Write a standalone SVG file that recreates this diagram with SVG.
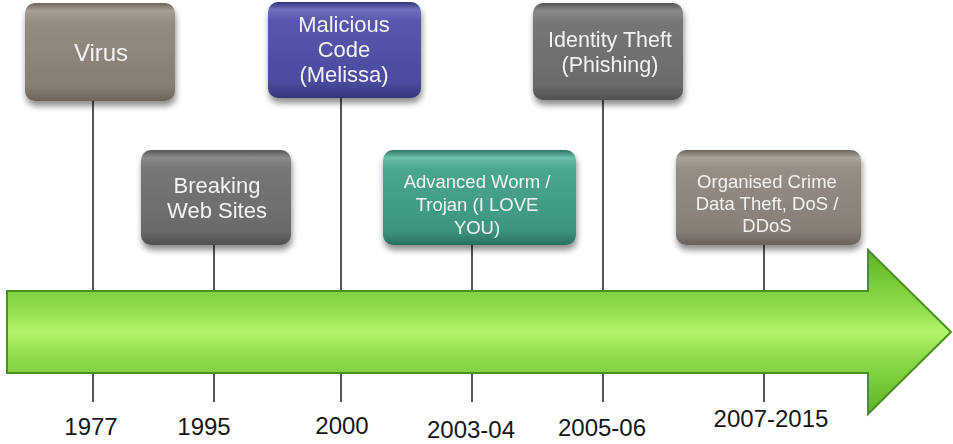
<svg xmlns="http://www.w3.org/2000/svg" width="953" height="444" viewBox="0 0 953 444">
<defs>
<style>
.lbl{font-family:"Liberation Sans",Arial,sans-serif;fill:#f2f2f2;text-anchor:middle}
.yr{font-family:"Liberation Sans",Arial,sans-serif;fill:#161616;font-size:24px;text-anchor:middle}
.ln{stroke:#555;stroke-width:2;fill:none}
.box{filter:url(#sh)}
</style>
<filter id="sh" x="-10%" y="-10%" width="125%" height="135%">
<feGaussianBlur in="SourceAlpha" stdDeviation="3"/>
<feOffset dx="1" dy="5" result="b"/>
<feComponentTransfer><feFuncA type="linear" slope="0.45"/></feComponentTransfer>
<feMerge><feMergeNode/><feMergeNode in="SourceGraphic"/></feMerge>
</filter>
<linearGradient id="gBrown" x1="0" y1="0" x2="0" y2="1">
<stop offset="0" stop-color="#6f675e"/><stop offset="0.08" stop-color="#a79f95"/><stop offset="0.2" stop-color="#958c81"/><stop offset="0.85" stop-color="#877e73"/><stop offset="1" stop-color="#6c645b"/>
</linearGradient>
<linearGradient id="gGray" x1="0" y1="0" x2="0" y2="1">
<stop offset="0" stop-color="#555"/><stop offset="0.08" stop-color="#8a8a8a"/><stop offset="0.2" stop-color="#767676"/><stop offset="0.85" stop-color="#6a6a6a"/><stop offset="1" stop-color="#505050"/>
</linearGradient>
<linearGradient id="gBlue" x1="0" y1="0" x2="0" y2="1">
<stop offset="0" stop-color="#33337a"/><stop offset="0.08" stop-color="#6f6fc0"/><stop offset="0.2" stop-color="#5757ad"/><stop offset="0.85" stop-color="#4a4a9e"/><stop offset="1" stop-color="#333378"/>
</linearGradient>
<linearGradient id="gTeal" x1="0" y1="0" x2="0" y2="1">
<stop offset="0" stop-color="#2a7463"/><stop offset="0.08" stop-color="#6cc0aa"/><stop offset="0.2" stop-color="#4aa68f"/><stop offset="0.85" stop-color="#3c9580"/><stop offset="1" stop-color="#2a6f5f"/>
</linearGradient>
<linearGradient id="gTaupe" x1="0" y1="0" x2="0" y2="1">
<stop offset="0" stop-color="#6e655d"/><stop offset="0.08" stop-color="#aaa198"/><stop offset="0.2" stop-color="#968d84"/><stop offset="0.85" stop-color="#877e76"/><stop offset="1" stop-color="#6b635b"/>
</linearGradient>
<linearGradient id="gArrow" x1="0" y1="0" x2="0" y2="1">
<stop offset="0" stop-color="#5cb51e"/><stop offset="0.35" stop-color="#8fdc4a"/><stop offset="0.5" stop-color="#b2f56c"/><stop offset="0.65" stop-color="#8fdc4a"/><stop offset="1" stop-color="#5cb51e"/>
</linearGradient>
</defs>

<g id="connectors">
<line class="ln" x1="93" y1="100" x2="93" y2="291"/>
<line class="ln" x1="93" y1="372" x2="93" y2="402"/>
<line class="ln" x1="214" y1="242" x2="214" y2="291"/>
<line class="ln" x1="214" y1="372" x2="214" y2="402"/>
<line class="ln" x1="341" y1="96" x2="341" y2="291"/>
<line class="ln" x1="341" y1="372" x2="341" y2="402"/>
<line class="ln" x1="472" y1="242" x2="472" y2="291"/>
<line class="ln" x1="472" y1="372" x2="472" y2="402"/>
<line class="ln" x1="603" y1="98" x2="603" y2="291"/>
<line class="ln" x1="603" y1="372" x2="603" y2="402"/>
<line class="ln" x1="764" y1="242" x2="764" y2="291"/>
<line class="ln" x1="764" y1="372" x2="764" y2="402"/>
</g>

<g id="arrow">
<path d="M7,291 H868 V250 L951,332 L868,414 V373 H7 Z" fill="url(#gArrow)" stroke="#4d8f1f" stroke-width="2"/>
</g>

<g id="virus" class="box">
<rect x="25" y="3" width="150" height="98" rx="10" fill="url(#gBrown)"/>
<text class="lbl" x="101" y="61" font-size="24">Virus</text>
</g>

<g id="breaking" class="box">
<rect x="141" y="150" width="150" height="95" rx="10" fill="url(#gGray)"/>
<text class="lbl" x="217" y="193" font-size="22">Breaking</text>
<text class="lbl" x="217" y="218" font-size="22">Web Sites</text>
</g>

<g id="malicious" class="box">
<rect x="268" y="2" width="153" height="96" rx="10" fill="url(#gBlue)"/>
<text class="lbl" x="344" y="32" font-size="22">Malicious</text>
<text class="lbl" x="344" y="57" font-size="22">Code</text>
<text class="lbl" x="344" y="82" font-size="22">(Melissa)</text>
</g>

<g id="advanced" class="box">
<rect x="383" y="150" width="193" height="95" rx="10" fill="url(#gTeal)"/>
<text class="lbl" x="477" y="188" font-size="18.5">Advanced Worm /</text>
<text class="lbl" x="477" y="211" font-size="18.5">Trojan (I LOVE</text>
<text class="lbl" x="477" y="234" font-size="18.5">YOU)</text>
</g>

<g id="identity" class="box">
<rect x="533" y="3" width="150" height="97" rx="10" fill="url(#gGray)"/>
<text class="lbl" x="610" y="47" font-size="21.5">Identity Theft</text>
<text class="lbl" x="610" y="72" font-size="21.5">(Phishing)</text>
</g>

<g id="organised" class="box">
<rect x="676" y="150" width="185" height="95" rx="10" fill="url(#gTaupe)"/>
<text class="lbl" x="767" y="188" font-size="18.5">Organised Crime</text>
<text class="lbl" x="767" y="210" font-size="18.5">Data Theft, DoS /</text>
<text class="lbl" x="767" y="232" font-size="18.5">DDoS</text>
</g>

<g id="years">
<text class="yr" x="91" y="435">1977</text>
<text class="yr" x="204" y="435">1995</text>
<text class="yr" x="342" y="434">2000</text>
<text class="yr" x="471" y="438">2003-04</text>
<text class="yr" x="602" y="436">2005-06</text>
<text class="yr" x="771" y="427">2007-2015</text>
</g>
</svg>
